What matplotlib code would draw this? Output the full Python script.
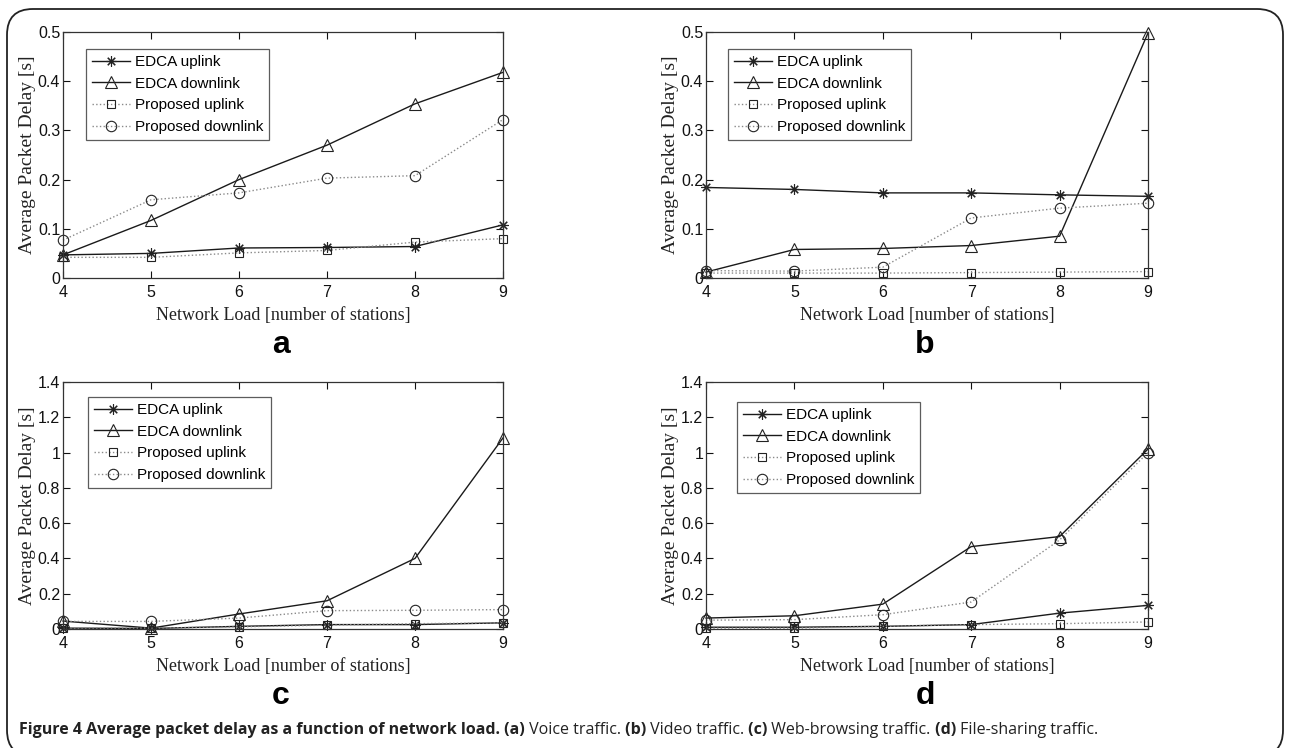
import matplotlib
matplotlib.use("Agg")
import matplotlib.pyplot as plt
from matplotlib.patches import FancyBboxPatch

# ─── Data ───────────────────────────────────────────────────
LOAD = [4, 5, 6, 7, 8, 9]
SERIES = ["EDCA uplink", "EDCA downlink", "Proposed uplink", "Proposed downlink"]

# (a) Voice traffic
a_edca_up = [0.047, 0.050, 0.061, 0.062, 0.064, 0.108]
a_edca_down = [0.047, 0.117, 0.200, 0.270, 0.354, 0.418]
a_prop_up = [0.042, 0.042, 0.051, 0.056, 0.073, 0.080]
a_prop_down = [0.077, 0.159, 0.173, 0.203, 0.208, 0.322]

# (b) Video traffic
b_edca_up = [0.184, 0.180, 0.173, 0.173, 0.169, 0.166]
b_edca_down = [0.012, 0.058, 0.060, 0.066, 0.085, 0.498]
b_prop_up = [0.010, 0.010, 0.010, 0.011, 0.012, 0.013]
b_prop_down = [0.015, 0.014, 0.022, 0.122, 0.142, 0.152]

# (c) Web-browsing traffic
c_edca_up = [0.005, 0.003, 0.015, 0.025, 0.025, 0.035]
c_edca_down = [0.045, 0.005, 0.085, 0.160, 0.400, 1.083]
c_prop_up = [0.005, 0.005, 0.012, 0.022, 0.030, 0.035]
c_prop_down = [0.043, 0.043, 0.062, 0.104, 0.106, 0.110]

# (d) File-sharing traffic
d_edca_up = [0.010, 0.010, 0.015, 0.025, 0.090, 0.134]
d_edca_down = [0.062, 0.075, 0.141, 0.467, 0.524, 1.020]
d_prop_up = [0.005, 0.005, 0.015, 0.025, 0.030, 0.040]
d_prop_down = [0.050, 0.053, 0.081, 0.153, 0.505, 1.000]

YTICKS_SMALL = [0, 0.1, 0.2, 0.3, 0.4, 0.5]
YTICKS_BIG = [0, 0.2, 0.4, 0.6, 0.8, 1, 1.2, 1.4]

PANELS = [
    ("a", [a_edca_up, a_edca_down, a_prop_up, a_prop_down], 0.5, YTICKS_SMALL),
    ("b", [b_edca_up, b_edca_down, b_prop_up, b_prop_down], 0.5, YTICKS_SMALL),
    ("c", [c_edca_up, c_edca_down, c_prop_up, c_prop_down], 1.4, YTICKS_BIG),
    ("d", [d_edca_up, d_edca_down, d_prop_up, d_prop_down], 1.4, YTICKS_BIG),
]

CAPTION = [
    ("Figure 4 Average packet delay as a function of network load.", "bold"),
    (" (a)", "bold"), (" Voice traffic.", "normal"),
    (" (b)", "bold"), (" Video traffic.", "normal"),
    (" (c)", "bold"), (" Web-browsing traffic.", "normal"),
    (" (d)", "bold"), (" File-sharing traffic.", "normal"),
]

# ─── Layout (pixels) ────────────────────────────────────────
W, H = 1293, 748
AX_BOX = {"a": (63, 32, 503, 278), "b": (706, 32, 1148, 278),
          "c": (63, 382, 503, 629), "d": (706, 382, 1148, 629)}
LEG_POS = {"a": (86, 49), "b": (728, 49), "c": (88, 397), "d": (737, 402)}

# asterisk / triangle / square / circle, MATLAB look
MARKERS = [((8, 2, 0), 7.5), ("^", 8), ("s", 6), ("o", 7.5)]
LINES = [("-", "#1a1a1a"), ("-", "#1a1a1a"), (":", "#8a8a8a"), (":", "#8a8a8a")]

SANS = "Liberation Sans"
SERIF = "Liberation Serif"


def fmt_tick(v):
    return "0" if v == 0 else ("%g" % v)


fig = plt.figure(figsize=(W / 100, H / 100), dpi=100, facecolor="white")

# rounded frame around the whole figure (bottom runs off the image)
frame = FancyBboxPatch((7 / W, -8 / H), (W - 10 - 7) / W, (H - 9 + 8) / H,
                       boxstyle="round,pad=0,rounding_size=0.02",
                       transform=fig.transFigure, fill=False,
                       edgecolor="#222222", linewidth=1.3,
                       mutation_aspect=W / H)
fig.patches.append(frame)

for letter, data, ymax, yticks in PANELS:
    x0, y0, x1, y1 = AX_BOX[letter]
    ax = fig.add_axes([x0 / W, 1 - y1 / H, (x1 - x0) / W, (y1 - y0) / H])

    for vals, name, (mk, ms), (ls, lc) in zip(data, SERIES, MARKERS, LINES):
        ax.plot(LOAD, vals, label=name, color=lc, linestyle=ls, linewidth=1.0,
                marker=mk, markersize=ms, markerfacecolor="none",
                markeredgecolor="#222222", markeredgewidth=0.8, clip_on=False)

    ax.set_xlim(4, 9)
    ax.set_ylim(0, ymax)
    ax.set_xticks(LOAD)
    ax.set_xticklabels([str(v) for v in LOAD], fontfamily=SANS, fontsize=11.5)
    ax.set_yticks(yticks)
    ax.set_yticklabels([fmt_tick(v) for v in yticks], fontfamily=SANS, fontsize=11.5)
    ax.tick_params(direction="in", top=True, right=True, length=5, width=0.8,
                   colors="#111111")
    ax.tick_params(axis="x", pad=5)
    ax.tick_params(axis="y", pad=2)
    for s in ax.spines.values():
        s.set_color("#333333")
        s.set_linewidth(0.9)

    ax.set_xlabel("Network Load [number of stations]", fontfamily=SERIF,
                  fontsize=13, color="#222222", labelpad=5)
    ax.set_ylabel("Average Packet Delay [s]", fontfamily=SERIF,
                  fontsize=14, color="#222222", labelpad=1)

    lx, ly = LEG_POS[letter]
    leg = ax.legend(loc="upper left",
                    bbox_to_anchor=(lx / W, 1 - ly / H),
                    bbox_transform=fig.transFigure,
                    prop={"family": SANS, "size": 11},
                    frameon=True, fancybox=False, edgecolor="#333333",
                    borderpad=0.4, labelspacing=0.5, handlelength=2.5,
                    handletextpad=0.3, borderaxespad=0)
    leg.get_frame().set_linewidth(0.9)

    # panel letter under the x-label
    fig.text(((x0 + x1) / 2 - 2) / W, 1 - (y1 + 67) / H, letter,
             fontfamily=SANS, fontweight="bold", fontsize=23,
             ha="center", va="center")

# caption: bold / regular runs laid out one after another
fig.canvas.draw()
renderer = fig.canvas.get_renderer()
x = 19
for part, weight in CAPTION:
    t = fig.text(x / W, 1 - 730 / H, part, fontfamily="Open Sans",
                 fontweight=weight, fontsize=11.5, color="#222222",
                 ha="left", va="center")
    x = t.get_window_extent(renderer).x1

fig.savefig("out.png", dpi=100, facecolor="white")
